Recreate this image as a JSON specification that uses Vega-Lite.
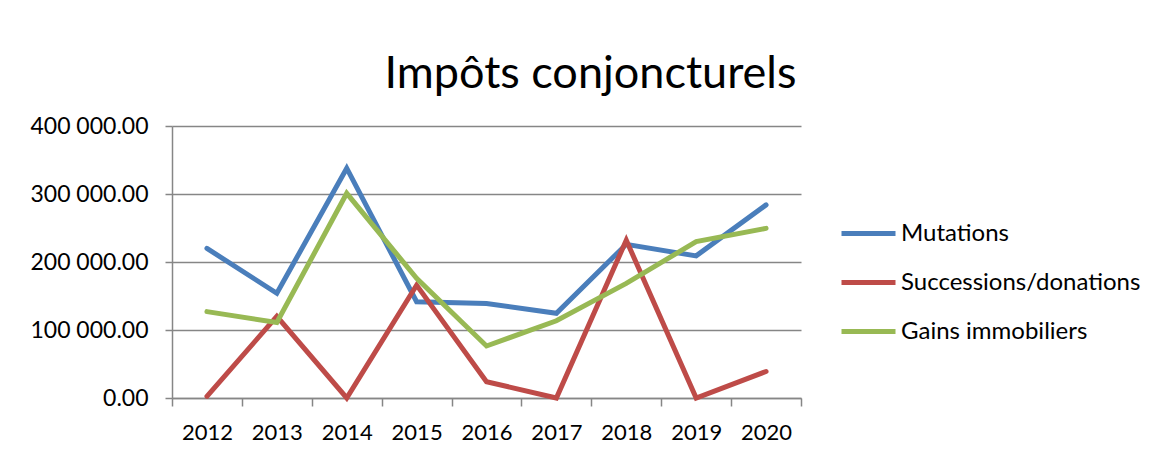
{
  "$schema": "https://vega.github.io/schema/vega-lite/v6.json",
  "autosize": {"type": "none"},
  "padding": {"left": 172, "top": 126, "right": 358, "bottom": 56},
  "width": 629,
  "height": 272,
  "background": "white",
  "config": {
    "locale": {"number": {"decimal": ".", "thousands": " ", "grouping": [3], "currency": ["", ""]}},
    "font": "Lato",
    "view": {"stroke": null}
  },
  "title": {
    "text": "Impôts conjoncturels",
    "font": "Lato",
    "fontSize": 45,
    "fontWeight": "normal",
    "color": "#000000",
    "anchor": "middle",
    "dx": 104,
    "offset": 18
  },
  "data": {
    "values": [
      {"annee": "2012", "serie": "Mutations", "valeur": 220000},
      {"annee": "2013", "serie": "Mutations", "valeur": 154000},
      {"annee": "2014", "serie": "Mutations", "valeur": 338000},
      {"annee": "2015", "serie": "Mutations", "valeur": 141500},
      {"annee": "2016", "serie": "Mutations", "valeur": 139000},
      {"annee": "2017", "serie": "Mutations", "valeur": 124500},
      {"annee": "2018", "serie": "Mutations", "valeur": 226000},
      {"annee": "2019", "serie": "Mutations", "valeur": 209000},
      {"annee": "2020", "serie": "Mutations", "valeur": 284000},
      {"annee": "2012", "serie": "Successions/donations", "valeur": 2500},
      {"annee": "2013", "serie": "Successions/donations", "valeur": 120000},
      {"annee": "2014", "serie": "Successions/donations", "valeur": 0},
      {"annee": "2015", "serie": "Successions/donations", "valeur": 166000},
      {"annee": "2016", "serie": "Successions/donations", "valeur": 24000},
      {"annee": "2017", "serie": "Successions/donations", "valeur": 0},
      {"annee": "2018", "serie": "Successions/donations", "valeur": 232000},
      {"annee": "2019", "serie": "Successions/donations", "valeur": 0},
      {"annee": "2020", "serie": "Successions/donations", "valeur": 39000},
      {"annee": "2012", "serie": "Gains immobiliers", "valeur": 127000},
      {"annee": "2013", "serie": "Gains immobiliers", "valeur": 111000},
      {"annee": "2014", "serie": "Gains immobiliers", "valeur": 301000},
      {"annee": "2015", "serie": "Gains immobiliers", "valeur": 176000},
      {"annee": "2016", "serie": "Gains immobiliers", "valeur": 76500},
      {"annee": "2017", "serie": "Gains immobiliers", "valeur": 113500},
      {"annee": "2018", "serie": "Gains immobiliers", "valeur": 168500},
      {"annee": "2019", "serie": "Gains immobiliers", "valeur": 230000},
      {"annee": "2020", "serie": "Gains immobiliers", "valeur": 249500}
    ]
  },
  "mark": {"type": "line", "strokeWidth": 5, "strokeCap": "round", "strokeJoin": "miter"},
  "encoding": {
    "x": {
      "field": "annee",
      "type": "ordinal",
      "bandPosition": 0.5,
      "scale": {"type": "band", "paddingInner": 0, "paddingOuter": 0},
      "axis": {
        "title": null,
        "labelAngle": 0,
        "labelFont": "Lato",
        "labelFontSize": 22,
        "labelColor": "#000000",
        "labelPadding": 16,
        "tickBand": "extent",
        "tickSize": 8,
        "tickColor": "#868686",
        "tickWidth": 1.5,
        "domainColor": "#868686",
        "domainWidth": 1.5,
        "grid": false
      }
    },
    "y": {
      "field": "valeur",
      "type": "quantitative",
      "scale": {"domain": [0, 400000], "nice": false},
      "axis": {
        "title": null,
        "values": [0, 100000, 200000, 300000, 400000],
        "format": ",.2f",
        "labelFont": "Lato",
        "labelFontSize": 23,
        "labelColor": "#000000",
        "labelPadding": 17,
        "tickSize": 7,
        "tickColor": "#868686",
        "tickWidth": 1.5,
        "domainColor": "#868686",
        "domainWidth": 1.5,
        "grid": true,
        "gridColor": "#868686",
        "gridWidth": 1.5
      }
    },
    "color": {
      "field": "serie",
      "type": "nominal",
      "sort": ["Mutations", "Successions/donations", "Gains immobiliers"],
      "scale": {
        "domain": ["Mutations", "Successions/donations", "Gains immobiliers"],
        "range": ["#4a7ebb", "#be4b48", "#98b954"]
      },
      "legend": {
        "title": null,
        "orient": "none",
        "legendX": 667,
        "legendY": 78,
        "symbolType": "stroke",
        "symbolSize": 2916,
        "symbolStrokeWidth": 5,
        "labelFont": "Lato",
        "labelFontSize": 24,
        "labelColor": "#000000",
        "labelOffset": 3,
        "labelLimit": 400,
        "rowPadding": 7
      }
    }
  }
}
